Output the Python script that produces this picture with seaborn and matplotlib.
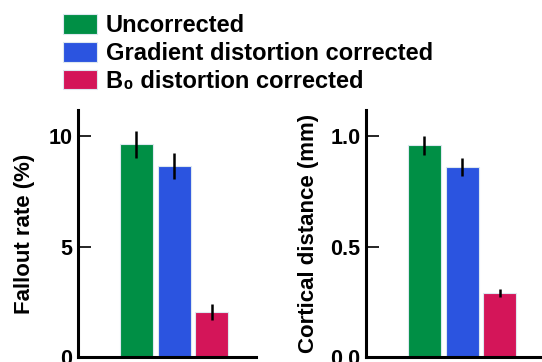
import pandas as pd
import matplotlib
matplotlib.use('Agg')
import matplotlib.pyplot as plt
from matplotlib.patches import Patch
import numpy as np
import seaborn as sns

# conditions and measured values (mean +/- error)
conditions = ['Uncorrected', 'Gradient distortion corrected', 'B\u2080 distortion corrected']
colors = ['#008f45', '#2b54e0', '#d41559']

fallout = [9.64, 8.65, 2.05]
fallout_err = [0.63, 0.60, 0.36]

cortical = [0.961, 0.861, 0.289]
cortical_err = [0.043, 0.042, 0.018]

sns.set_style('white')
plt.rcParams['font.family'] = ['Liberation Sans', 'DejaVu Sans']
plt.rcParams['font.weight'] = 'bold'
plt.rcParams['text.color'] = 'black'
plt.rcParams['axes.labelcolor'] = 'black'
plt.rcParams['ytick.color'] = 'black'

fig = plt.figure(figsize=(5.42, 3.62), dpi=100)
ax1 = fig.add_axes([0.1439, 0.0138, 0.3284, 0.6823])
ax2 = fig.add_axes([0.6753, 0.0138, 0.3284, 0.6823])

panels = [
    (ax1, fallout, fallout_err, 'Fallout rate (%)', [0, 5, 10], ['0', '5', '10'], 11.2, 10),
    (ax2, cortical, cortical_err, 'Cortical distance (mm)', [0, 0.5, 1.0], ['0.0', '0.5', '1.0'], 1.12, 8),
]

for ax, vals, errs, ylab, ticks, ticklabels, ytop, lpad in panels:
    df = pd.DataFrame({'cond': conditions, 'val': vals})
    sns.barplot(data=df, x='cond', y='val', hue='cond', palette=colors, saturation=1,
                width=0.87, legend=False, ax=ax, edgecolor='#dde8f0', linewidth=0.8)
    ax.errorbar(np.arange(len(vals)), vals, yerr=errs, fmt='none',
                ecolor='black', elinewidth=1.8, capsize=0)
    ax.set_xlim(-1.53, 3.16)
    ax.set_ylim(0, ytop)
    ax.set_yticks(ticks)
    ax.set_yticklabels(ticklabels, fontsize=15.5, fontweight='bold')
    ax.set_xticks([])
    ax.set_xlabel('')
    ax.set_ylabel(ylab, fontsize=16, fontweight='bold', labelpad=lpad)
    ax.tick_params(axis='y', direction='in', length=9, width=1.2, pad=4, left=True)
    for s in ['top', 'right']:
        ax.spines[s].set_visible(False)
    for s in ['left', 'bottom']:
        ax.spines[s].set_linewidth(2.2)
        ax.spines[s].set_color('black')

handles = [Patch(facecolor=c, edgecolor='#dde8f0', linewidth=0.8) for c in colors]
fig.legend(handles, conditions, loc='upper left', bbox_to_anchor=(0.091, 1.0),
           frameon=False, prop={'size': 17, 'weight': 'bold'},
           handlelength=1.4, handleheight=0.9, handletextpad=0.4,
           labelspacing=0.2, borderaxespad=0.3, borderpad=0.3)

fig.savefig('out.png', dpi=100)
